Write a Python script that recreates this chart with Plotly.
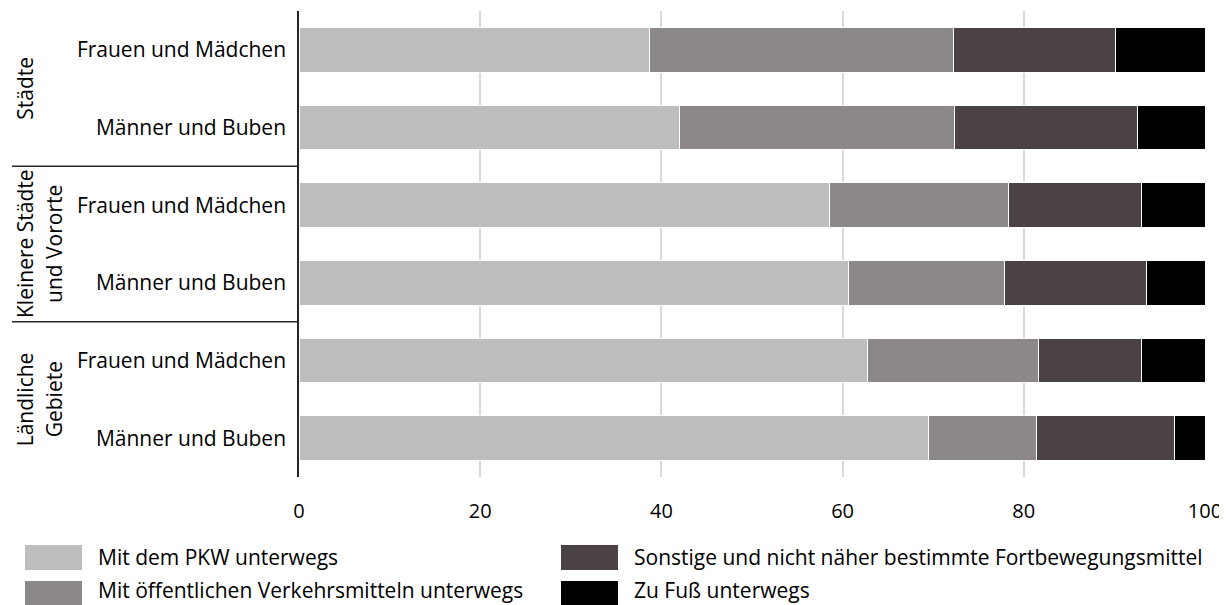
import plotly.graph_objects as go

# ---- data ----
groups = ["Städte", "Städte",
          "Kleinere Städte und Vororte", "Kleinere Städte und Vororte",
          "Ländliche Gebiete", "Ländliche Gebiete"]
persons = ["Frauen und Mädchen", "Männer und Buben",
           "Frauen und Mädchen", "Männer und Buben",
           "Frauen und Mädchen", "Männer und Buben"]
series_names = ["Mit dem PKW unterwegs",
                "Mit öffentlichen Verkehrsmitteln unterwegs",
                "Sonstige und nicht näher bestimmte Fortbewegungsmittel",
                "Zu Fuß unterwegs"]
pkw = [38.7, 42.0, 58.6, 60.6, 62.8, 69.5]
oev = [33.5, 30.3, 19.7, 17.3, 18.8, 11.9]
sonst = [17.9, 20.2, 14.7, 15.6, 11.4, 15.2]
fuss = [9.9, 7.5, 7.0, 6.5, 7.0, 3.4]
x_ticks = [0, 20, 40, 60, 80, 100]
group_label_lines = [("Städte",), ("Kleinere Städte", "und Vororte"), ("Ländliche", "Gebiete")]

colors = ["#BDBDBB", "#8C8887", "#4A4244", "#000000"]
FONT = "Open Sans"
FS = 21

# ---- geometry (pixels, in window coordinates; page body has an 8px margin) ----
OFF = 8
W, H = 1227 - OFF, 605 - OFF
PL, PR, PT, PB = 299, 1205, 11, 477  # plot area edges in window pixels
L, R, T, B = PL - OFF, (W + OFF) - PR, PT - OFF, (H + OFF) - PB
pw = PR - PL
ph = PB - PT


def px_x(px):
    return (px - PL) / pw


def px_y(py):
    return (PB - py) / ph


keys = [g + " | " + p for g, p in zip(groups, persons)]

fig = go.Figure()
for name, vals, col in zip(series_names, [pkw, oev, sonst, fuss], colors):
    fig.add_trace(go.Bar(
        y=keys, x=vals, orientation="h", name=name,
        marker=dict(color=col, line=dict(color="#ffffff", width=1)),
        showlegend=False,
    ))

fig.update_layout(
    width=W, height=H,
    margin=dict(l=L, r=R, t=T, b=B, pad=0),
    barmode="stack", bargap=0.425,
    plot_bgcolor="white", paper_bgcolor="white",
    font=dict(family=FONT, size=FS, color="#000000"),
)
fig.update_xaxes(
    range=[0, 100], tickvals=x_ticks, ticktext=[str(v) for v in x_ticks],
    showgrid=True, gridcolor="#d9d9d9", gridwidth=1.5,
    zeroline=False, showline=False, ticks="", ticklabelstandoff=20,
    tickfont=dict(family=FONT, size=20, color="#000000"),
)
fig.update_yaxes(
    categoryorder="array", categoryarray=keys,
    range=[len(keys) - 0.5, -0.5],
    tickvals=keys, ticktext=persons,
    showline=True, linecolor="#262626", linewidth=1.5,
    showgrid=False, zeroline=False, ticks="", ticklabelstandoff=7,
    tickfont=dict(family=FONT, size=FS, color="#000000"),
)

# group dividers
for yv in [1.5, 3.5]:
    fig.add_shape(type="line", xref="paper", yref="y",
                  x0=px_x(12), x1=0, y0=yv, y1=yv,
                  line=dict(color="#262626", width=1.5))

# group labels (rotated)
group_centers = [0.5, 2.5, 4.5]
line_x = [25, 54]
for lines, yc in zip(group_label_lines, group_centers):
    for i, txt in enumerate(lines):
        fig.add_annotation(xref="paper", yref="y", x=px_x(line_x[i]), y=yc,
                           text=txt, textangle=-90, showarrow=False,
                           xanchor="center", yanchor="middle",
                           font=dict(family=FONT, size=FS, color="#000000"))

# custom legend
leg_pos = [(25, 545, 557), (25, 581, 590), (561, 545, 557), (561, 581, 590)]
for (lx, ly, ty), name, col in zip(leg_pos, series_names, colors):
    fig.add_shape(type="rect", xref="paper", yref="paper",
                  x0=px_x(lx), x1=px_x(lx + 57), y0=px_y(ly), y1=px_y(min(ly + 25, 605)),
                  fillcolor=col, line=dict(width=0))
    fig.add_annotation(xref="paper", yref="paper", x=px_x(lx + 71), y=px_y(ty),
                       text=name, showarrow=False, xanchor="left", yanchor="middle",
                       font=dict(family=FONT, size=FS, color="#000000"))

fig.write_html("out.html")
